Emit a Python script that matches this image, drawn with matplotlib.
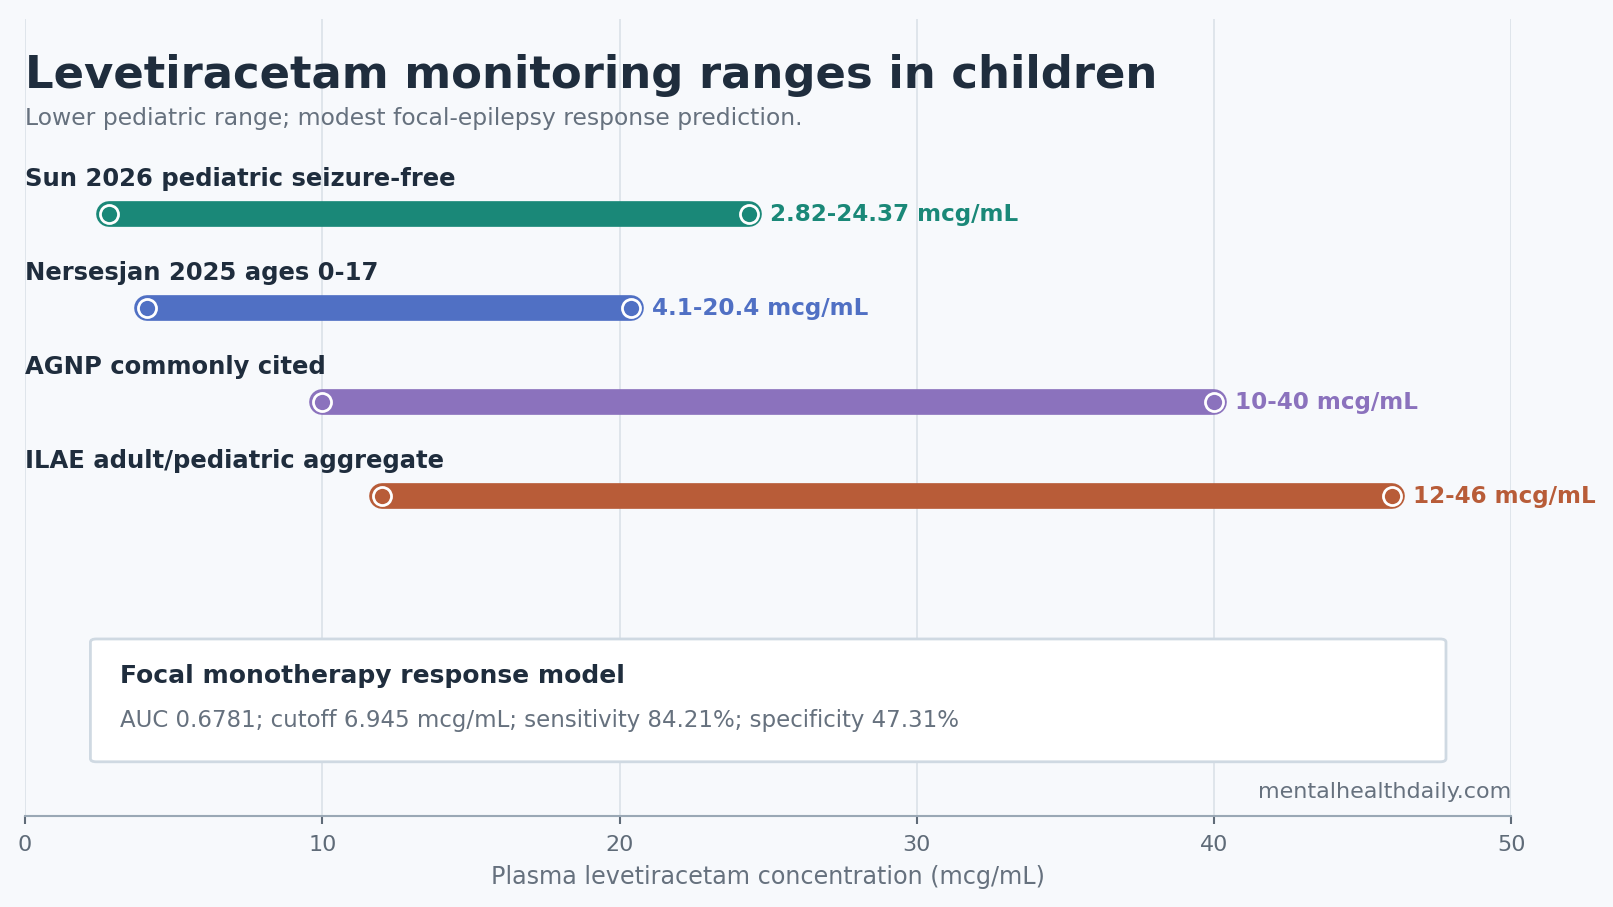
import matplotlib.pyplot as plt
from matplotlib.patches import FancyBboxPatch

# data
labels = ["Sun 2026 pediatric seizure-free", "Nersesjan 2025 ages 0-17",
          "AGNP commonly cited", "ILAE adult/pediatric aggregate"]
lows = [2.82, 4.1, 10, 12]
highs = [24.37, 20.4, 40, 46]
range_text = ["2.82-24.37 mcg/mL", "4.1-20.4 mcg/mL", "10-40 mcg/mL", "12-46 mcg/mL"]
colors = ["#1a8878", "#5070c4", "#8b72bd", "#b85c38"]
xticks = [0, 10, 20, 30, 40, 50]

bg = "#f7f9fc"
dark = "#1f2d3d"
gray = "#66717e"

fig = plt.figure(figsize=(16.13, 9.07), dpi=100, facecolor=bg)
ax = fig.add_axes([0.0155, 0.1003, 0.9215, 0.8793])
ax.set_facecolor(bg)

ax.set_xlim(0, 50)
ax.set_ylim(6.40, -2.08)

for i, (lab, lo, hi, txt, c) in enumerate(zip(labels, lows, highs, range_text, colors)):
    ax.plot([lo, hi], [i, i], color=c, lw=18.5, solid_capstyle="round", zorder=3)
    ax.plot([lo, hi], [i, i], "o", ms=13, mfc=c, mec="white", mew=2, zorder=4)
    ax.text(0, i - 0.37, lab, fontsize=17.5, fontweight="bold", color=dark,
            va="center", ha="left")
    ax.annotate(txt, (hi, i), xytext=(15, 0), textcoords="offset points",
                fontsize=16.6, fontweight="bold", color=c, va="center", ha="left")

# grid and axes
ax.set_xticks(xticks)
ax.set_yticks([])
ax.grid(axis="x", color="#dde3ea", lw=1.3, zorder=0)
ax.set_axisbelow(True)
for s in ["top", "right", "left"]:
    ax.spines[s].set_visible(False)
ax.spines["bottom"].set_color("#9aa8b5")
ax.spines["bottom"].set_linewidth(1.5)
ax.tick_params(axis="x", colors="#5f6b78", labelsize=16, length=6, width=1.5, pad=8)
ax.set_xlabel("Plasma levetiracetam concentration (mcg/mL)", fontsize=17.2,
              color=gray, labelpad=7)

# title
ax.text(0, 0.928, "Levetiracetam monitoring ranges in children", transform=ax.transAxes,
        fontsize=32.4, fontweight="bold", color=dark, va="center", ha="left")
ax.text(0, 0.874, "Lower pediatric range; modest focal-epilepsy response prediction.",
        transform=ax.transAxes, fontsize=16.9, color=gray, va="center", ha="left")

# note box
box = FancyBboxPatch((0.044, 0.068), 0.912, 0.154, transform=ax.transAxes,
                     boxstyle="round,pad=0,rounding_size=0.004", fc="white",
                     ec="#cfd9e2", lw=2, zorder=5)
ax.add_patch(box)
ax.text(0.064, 0.176, "Focal monotherapy response model", transform=ax.transAxes,
        fontsize=18, fontweight="bold", color=dark, va="center", ha="left", zorder=6)
ax.text(0.064, 0.120,
        "AUC 0.6781; cutoff 6.945 mcg/mL; sensitivity 84.21%; specificity 47.31%",
        transform=ax.transAxes, fontsize=16.5, color=gray, va="center", ha="left", zorder=6)

ax.text(1.0, 0.030, "mentalhealthdaily.com", transform=ax.transAxes, fontsize=16,
        color=gray, va="center", ha="right")

fig.savefig("out.png", dpi=100, facecolor=bg)
